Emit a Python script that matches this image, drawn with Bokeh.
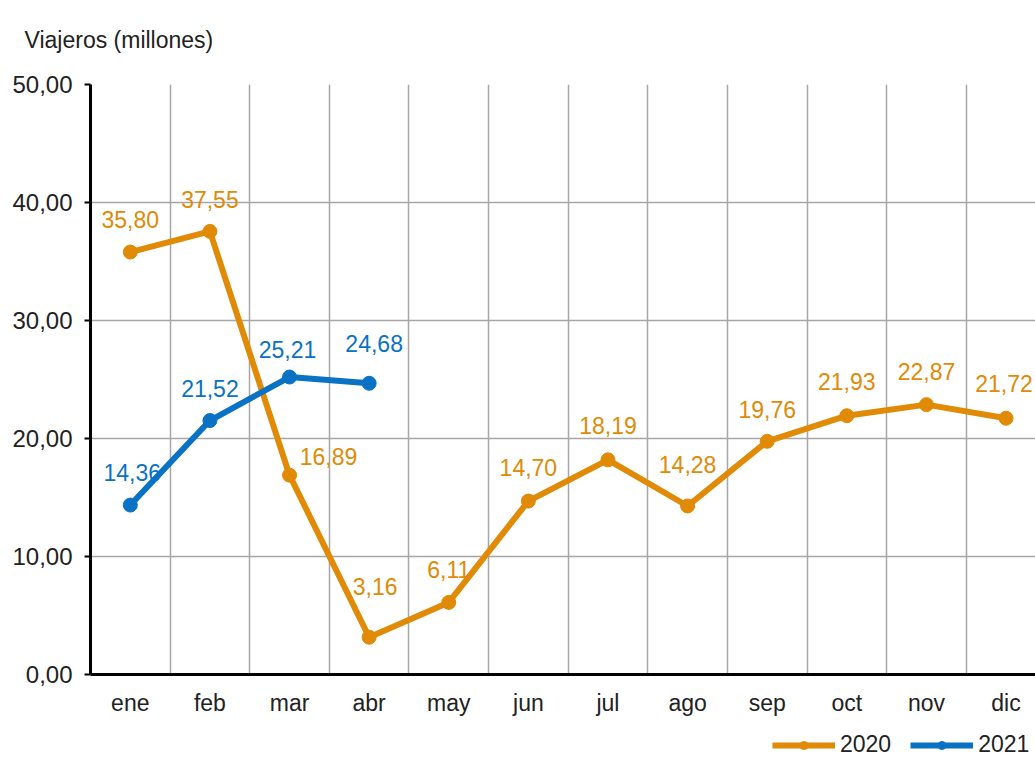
from bokeh.plotting import figure
from bokeh.layouts import column
from bokeh.models import (Range1d, FixedTicker, Legend, LegendItem,
                          ColumnDataSource)
from bokeh.core.properties import value
from bokeh.embed import file_html
from bokeh.resources import INLINE

# ---- data ----
months = ["ene", "feb", "mar", "abr", "may", "jun", "jul", "ago", "sep", "oct", "nov", "dic"]
v2020 = [35.80, 37.55, 16.89, 3.16, 6.11, 14.70, 18.19, 14.28, 19.76, 21.93, 22.87, 21.72]
v2021 = [14.36, 21.52, 25.21, 24.68]
y_ticks = [0, 10, 20, 30, 40, 50]
series_names = ["2020", "2021"]

# label offsets (screen px) -- style only
dx2020 = [0, 0, 39, 6, 0, 0, 0, 0, 0, 0, 0, -2]
up2020 = [33, 32, 19, 51, 33, 34, 34, 41, 32, 34, 33, 35]
dx2021 = [2, 0, -2, 5]
up2021 = [33, 32, 28, 40]

C2020 = "#E08A06"
C2021 = "#0A72C4"
FONT = "Liberation Sans"
FS = "23px"


def fmt(v):
    return f"{v:.2f}".replace(".", ",")


p = figure(width=1035, height=724, output_backend="svg", toolbar_location=None,
           x_range=Range1d(-0.5, 11.37), y_range=Range1d(0, 50),
           min_border_left=90, min_border_right=0, min_border_top=84,
           min_border_bottom=50)
p.outline_line_color = None
p.background_fill_color = "white"
p.border_fill_color = "white"

# title (y-axis caption) at top-left; blank 2nd line lifts it away from the frame
p.title.text = "Viajeros (millones)\n "
p.title.align = "left"
p.title.offset = -66
p.title.standoff = 12
p.title.text_font = FONT
p.title.text_font_size = FS
p.title.text_font_style = "normal"
p.title.text_color = "#222222"

# axes
p.xaxis.ticker = FixedTicker(ticks=list(range(len(months))))
p.xaxis.major_label_overrides = {i: m for i, m in enumerate(months)}
p.xaxis.major_tick_line_color = None
p.xaxis.minor_tick_line_color = None
p.xaxis.axis_line_color = "black"
p.xaxis.axis_line_width = 3
p.xaxis.major_label_standoff = 9
p.xaxis.major_label_text_font = FONT
p.xaxis.major_label_text_font_size = FS
p.xaxis.major_label_text_color = "#222222"

p.yaxis.ticker = FixedTicker(ticks=y_ticks)
p.yaxis.major_label_overrides = {t: fmt(t) for t in y_ticks}
p.yaxis.major_tick_out = 6
p.yaxis.major_tick_in = 0
p.yaxis.major_tick_line_width = 2
p.yaxis.major_tick_line_color = "black"
p.yaxis.minor_tick_line_color = None
p.yaxis.axis_line_color = "black"
p.yaxis.axis_line_width = 3
p.yaxis.major_label_standoff = 12
p.yaxis.major_label_text_font = FONT
p.yaxis.major_label_text_font_size = "24px"
p.yaxis.major_label_text_color = "#222222"

# grids
p.xgrid.ticker = FixedTicker(ticks=[i + 0.5 for i in range(len(months) - 1)])
p.xgrid.grid_line_color = "#a6a6a6"
p.xgrid.grid_line_width = 1.5
p.ygrid.grid_line_color = "#a6a6a6"
p.ygrid.grid_line_width = 1.5

x2020 = list(range(len(v2020)))
x2021 = list(range(len(v2021)))

s2020 = ColumnDataSource(dict(x=x2020, y=v2020, lab=[fmt(v) for v in v2020],
                              dx=dx2020, dy=[-u for u in up2020]))
s2021 = ColumnDataSource(dict(x=x2021, y=v2021, lab=[fmt(v) for v in v2021],
                              dx=dx2021, dy=[-u for u in up2021]))

p.line("x", "y", source=s2020, line_color=C2020, line_width=6)
p.scatter("x", "y", source=s2020, size=14, fill_color=C2020, line_color=C2020)
p.line("x", "y", source=s2021, line_color=C2021, line_width=6)
p.scatter("x", "y", source=s2021, size=14, fill_color=C2021, line_color=C2021)

p.text("x", "y", text="lab", source=s2020, x_offset="dx", y_offset="dy",
       text_align="center", text_baseline="middle", text_color=C2020,
       text_font=value(FONT), text_font_size=FS)
p.text("x", "y", text="lab", source=s2021, x_offset="dx", y_offset="dy",
       text_align="center", text_baseline="middle", text_color=C2021,
       text_font=value(FONT), text_font_size=FS)

# ---- legend strip (separate small figure; its frame is aligned with the main one) ----
lf = figure(width=1035, height=34, output_backend="svg", toolbar_location=None,
            x_axis_type=None, y_axis_type=None,
            x_range=Range1d(0, 1), y_range=Range1d(0, 1),
            min_border_left=0, min_border_right=0, min_border_top=0,
            min_border_bottom=0)
lf.outline_line_color = None
lf.grid.visible = False
items = []
for name, col in zip(series_names, [C2020, C2021]):
    # one hidden sample point outside the strip's range, only so the legend swatch renders
    src = ColumnDataSource(dict(x=[5.0], y=[5.0]))
    lr = lf.line("x", "y", source=src, line_color=col, line_width=6)
    mr = lf.scatter("x", "y", source=src, size=11, fill_color=col, line_color=col)
    items.append(LegendItem(label=name, renderers=[lr, mr]))
legend = Legend(items=items, orientation="horizontal", location=(682, 0),
                glyph_width=63, glyph_height=20, label_standoff=5, spacing=19,
                padding=0, margin=0, border_line_color=None,
                background_fill_alpha=0,
                label_text_font=FONT, label_text_font_size=FS,
                label_text_color="#222222")
lf.add_layout(legend, "center")

layout = column(p, lf, spacing=0)
open("out.html", "w").write(file_html(layout, INLINE))
